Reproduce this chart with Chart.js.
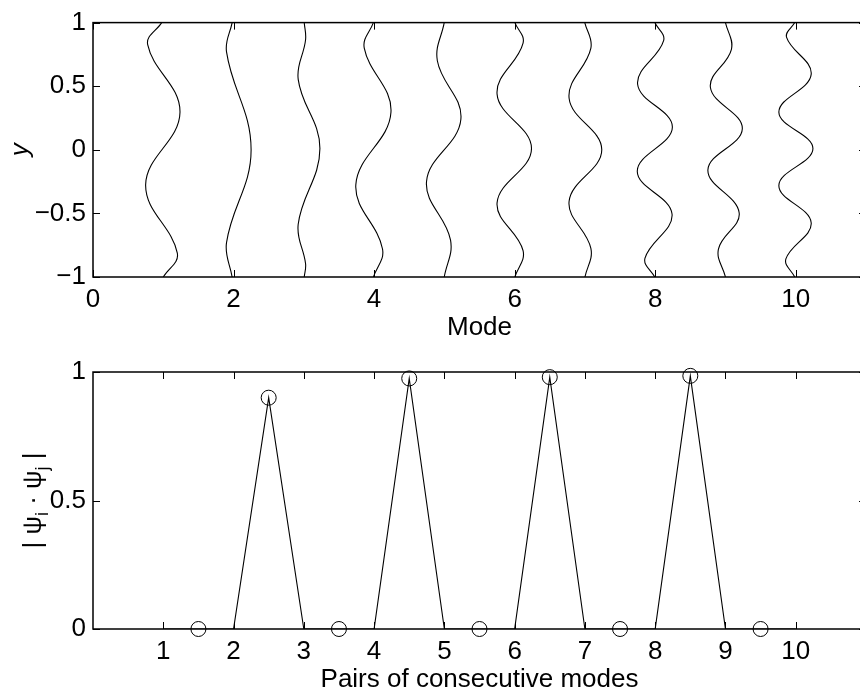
<!DOCTYPE html>
<html>
<head>
<meta charset="utf-8">
<script src="https://cdn.jsdelivr.net/npm/chart.js@4.4.0/dist/chart.umd.min.js"></script>
<style>
  html, body { margin: 0; padding: 0; background: #fff; overflow: hidden; }
  #modes { position: absolute; left: 0; top: 0; }
  #pairs { position: absolute; left: 0; top: 345px; }
</style>
</head>
<body>
<canvas id="modes" width="900" height="345"></canvas>
<canvas id="pairs" width="900" height="350"></canvas>
<script>
// mode shapes as [x, y], from the top wall (y = 1) down to the bottom wall (y = -1)
const mode1 = [[0.977, 1], [0.778, 0.826], [1.238, 0.295], [0.749, -0.275], [1.20, -0.813], [1.0, -1]];
const mode2 = [[1.98, 1], [1.90, 0.77], [2.25, 0.0], [1.90, -0.73], [1.98, -1]];
const mode3 = [[3.006, 1], [3.025, 0.865], [2.92, 0.554], [3.229, 0.01], [2.92, -0.585], [3.025, -0.896], [3.006, -1]];
const mode4 = [[3.99, 1], [3.86, 0.80], [4.24, 0.295], [3.74, -0.275], [4.12, -0.78], [3.99, -1]];
const mode5 = [[4.998, 1], [4.90, 0.70], [5.235, 0.24], [4.746, -0.249], [5.088, -0.71], [4.998, -1]];
const mode6 = [[6.003, 1], [6.12, 0.839], [5.75, 0.438], [6.24, 0.01], [5.75, -0.417], [6.12, -0.793], [6.003, -1]];
const mode7 = [[6.998, 1], [7.085, 0.80], [6.775, 0.405], [7.24, 0.0], [6.775, -0.404], [7.085, -0.775], [7.0, -1]];
const mode8 = [[7.994, 1], [8.12, 0.858], [7.75, 0.515], [8.245, 0.179], [7.745, -0.168], [8.24, -0.505], [7.855, -0.852], [7.994, -1]];
const mode9 = [[9.0, 1], [9.085, 0.79], [8.786, 0.49], [9.24, 0.166], [8.75, -0.158], [9.195, -0.495], [8.9, -0.78], [9.0, -1]];
const mode10 = [[9.986, 1], [9.87, 0.884], [10.22, 0.593], [9.76, 0.295], [10.245, 0.01], [9.76, -0.28], [10.22, -0.573], [9.86, -0.858], [9.986, -1]];

const modeShapes = [mode1, mode2, mode3, mode4, mode5, mode6, mode7, mode8, mode9, mode10];
const modeXTicks = [0, 2, 4, 6, 8, 10];
const modeYTicks = [-1, -0.5, 0, 0.5, 1];

// overlap of consecutive modes
const pairPositions = [1.5, 2.5, 3.5, 4.5, 5.5, 6.5, 7.5, 8.5, 9.5];
const pairOverlap = [0, 0.90, 0, 0.975, 0, 0.98, 0, 0.985, 0];
const profileX = [1, 2, 2.5, 3, 4, 4.5, 5, 6, 6.5, 7, 8, 8.5, 9, 10];
const profileY = [0, 0, 0.90, 0, 0, 0.975, 0, 0, 0.98, 0, 0, 0.985, 0, 0];
const pairXTicks = [1, 2, 3, 4, 5, 6, 7, 8, 9, 10];
const pairYTicks = [0, 0.5, 1];

Chart.defaults.font.family = "'Liberation Sans', Arial, Helvetica, sans-serif";
Chart.defaults.font.size = 26;
Chart.defaults.color = '#000';

const minus = v => String(v).replace('-', '\u2212');

// closed box with inward tick marks on all four sides
const boxAxes = {
    id: 'boxAxes',
    afterDatasetsDraw(chart) {
        const { ctx, chartArea: a, scales: { x, y } } = chart;
        ctx.save();
        ctx.strokeStyle = '#000';
        ctx.lineWidth = 1;
        ctx.beginPath();
        x.ticks.forEach(t => {
            const px = Math.round(x.getPixelForValue(t.value)) + 0.5;
            ctx.moveTo(px, a.bottom); ctx.lineTo(px, a.bottom - 7);
            ctx.moveTo(px, a.top); ctx.lineTo(px, a.top + 7);
        });
        y.ticks.forEach(t => {
            const py = Math.round(y.getPixelForValue(t.value)) + 0.5;
            ctx.moveTo(a.left, py); ctx.lineTo(a.left + 7, py);
            ctx.moveTo(a.right, py); ctx.lineTo(a.right - 7, py);
        });
        ctx.stroke();
        ctx.lineWidth = 1.5;
        ctx.strokeRect(a.left, a.top, a.right - a.left, a.bottom - a.top);
        ctx.restore();
    }
};

// rotated |psi_i . psi_j| label with subscripts
const overlapLabel = {
    id: 'overlapLabel',
    afterDraw(chart) {
        const { ctx, chartArea: a } = chart;
        const size = 26;
        const parts = [
            { t: '| \u03c8', sub: false },
            { t: 'i', sub: true },
            { t: ' \u00b7 \u03c8', sub: false },
            { t: 'j', sub: true },
            { t: ' |', sub: false }
        ];
        const fam = Chart.defaults.font.family;
        ctx.save();
        let total = 0;
        parts.forEach(p => {
            ctx.font = (p.sub ? Math.round(size * 0.7) : size) + 'px ' + fam;
            p.w = ctx.measureText(p.t).width;
            total += p.w;
        });
        ctx.translate(41, (a.top + a.bottom) / 2);
        ctx.rotate(-Math.PI / 2);
        ctx.fillStyle = '#000';
        ctx.textBaseline = 'alphabetic';
        let cx = -total / 2;
        parts.forEach(p => {
            ctx.font = (p.sub ? Math.round(size * 0.7) : size) + 'px ' + fam;
            ctx.fillText(p.t, cx, p.sub ? size * 0.25 : 0);
            cx += p.w;
        });
        ctx.restore();
    }
};

const tickSet = list => scale => { scale.ticks = list.map(v => ({ value: v })); };

new Chart(document.getElementById('modes'), {
    type: 'scatter',
    data: {
        datasets: modeShapes.map(shape => ({
            data: shape.map(([x, y]) => ({ x, y })),
            showLine: true,
            borderColor: '#000',
            borderWidth: 1.1,
            pointRadius: 0,
            tension: 0.4
        }))
    },
    options: {
        responsive: false,
        animation: false,
        events: [],
        layout: { padding: { top: 19, right: 34, left: 0, bottom: 0 } },
        plugins: { legend: { display: false }, tooltip: { enabled: false } },
        scales: {
            x: {
                type: 'linear', min: 0, max: 11,
                afterBuildTicks: tickSet(modeXTicks),
                afterFit: s => { s.height = 68; },
                grid: { display: false, drawTicks: false },
                border: { display: false },
                ticks: { padding: 7, maxRotation: 0, callback: minus },
                title: { display: true, text: 'Mode', padding: { top: 0, bottom: 2 } }
            },
            y: {
                type: 'linear', min: -1, max: 1,
                afterBuildTicks: tickSet(modeYTicks),
                afterFit: s => { s.width = 93; },
                grid: { display: false, drawTicks: false },
                border: { display: false },
                ticks: { padding: 7, callback: minus },
                title: { display: true, text: 'y', font: { style: 'italic' }, padding: { top: 5, bottom: 0 } }
            }
        }
    },
    plugins: [boxAxes]
});

new Chart(document.getElementById('pairs'), {
    type: 'scatter',
    data: {
        datasets: [
            {
                data: profileX.map((x, i) => ({ x, y: profileY[i] })),
                showLine: true,
                borderColor: '#000',
                borderWidth: 1.1,
                pointRadius: 0
            },
            {
                data: pairPositions.map((x, i) => ({ x, y: pairOverlap[i] })),
                showLine: false,
                pointStyle: 'circle',
                pointRadius: 7.5,
                pointBorderWidth: 1,
                pointBorderColor: '#000',
                pointBackgroundColor: 'rgba(0,0,0,0)',
                clip: false
            }
        ]
    },
    options: {
        responsive: false,
        animation: false,
        events: [],
        layout: { padding: { top: 27, right: 34, left: 0, bottom: 0 } },
        plugins: { legend: { display: false }, tooltip: { enabled: false } },
        scales: {
            x: {
                type: 'linear', min: 0, max: 11,
                afterBuildTicks: tickSet(pairXTicks),
                afterFit: s => { s.height = 66; },
                grid: { display: false, drawTicks: false },
                border: { display: false },
                ticks: { padding: 7, maxRotation: 0, callback: v => String(v) },
                title: { display: true, text: 'Pairs of consecutive modes', padding: { top: 0, bottom: 0 } }
            },
            y: {
                type: 'linear', min: 0, max: 1,
                afterBuildTicks: tickSet(pairYTicks),
                afterFit: s => { s.width = 93; },
                grid: { display: false, drawTicks: false },
                border: { display: false },
                ticks: { padding: 7, callback: v => String(v) }
            }
        }
    },
    plugins: [boxAxes, overlapLabel]
});
</script>
</body>
</html>
